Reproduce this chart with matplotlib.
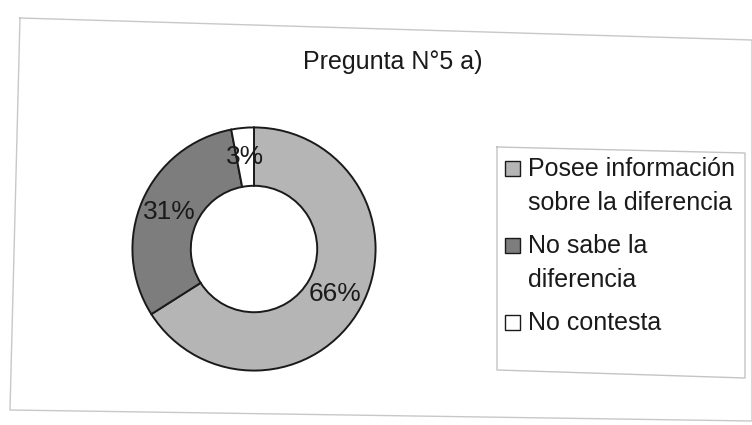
import matplotlib.pyplot as plt
from matplotlib.lines import Line2D
from matplotlib.patches import Rectangle

plt.rcParams['font.family'] = ['Liberation Sans', 'DejaVu Sans']

title = 'Pregunta N°5 a)'
labels = ['Posee información\nsobre la diferencia', 'No sabe la\ndiferencia', 'No contesta']
values = [66, 31, 3]
colors = ['#b5b5b5', '#7d7d7d', '#ffffff']

W, H = 752, 425
fig = plt.figure(figsize=(W / 100, H / 100), dpi=100)
fig.patch.set_facecolor('white')


def fx(px):
    return px / W


def fy(py):
    return 1 - py / H


# outer chart frame (scanned page is slightly skewed)
frame = [(20, 18), (752, 40), (752, 421), (10, 410), (20, 18)]
fig.add_artist(Line2D([fx(p[0]) for p in frame], [fy(p[1]) for p in frame],
                      color='#c8c8c8', lw=1.0))

ax = fig.add_axes([fx(254 - 124), fy(373), 248 / W, 248 / H])
wedges, texts, autotexts = ax.pie(
    values, colors=colors, startangle=90, counterclock=False,
    radius=1, autopct='%1.0f%%', pctdistance=0.76,
    wedgeprops=dict(width=0.48, edgecolor='#1a1a1a', linewidth=1.4),
    textprops=dict(fontsize=19, color='#1a1a1a'))
ax.set_xlim(-1.02, 1.02)
ax.set_ylim(-1.02, 1.02)
ax.set_aspect('equal')
ax.axis('off')

fig.text(fx(393), fy(62), title, ha='center', va='center',
         fontsize=18, color='#1a1a1a')

# legend, drawn by hand so the marker sits next to the first text line
box = [(497, 147), (745, 153), (745, 378), (497, 370), (497, 147)]
fig.add_artist(Line2D([fx(p[0]) for p in box], [fy(p[1]) for p in box],
                      color='#c4c4c4', lw=1.0))
baseline = 176
line_h = 34
gap = 9
for lab, col in zip(labels, colors):
    fig.add_artist(Rectangle((fx(505), fy(baseline)), 15 / W, 15 / H,
                             facecolor=col, edgecolor='#1a1a1a', lw=1.0))
    for line in lab.split('\n'):
        fig.text(fx(528), fy(baseline), line, ha='left', va='baseline',
                 fontsize=18, color='#1a1a1a')
        baseline += line_h
    baseline += gap

fig.savefig('out.png', dpi=100, facecolor='white')
